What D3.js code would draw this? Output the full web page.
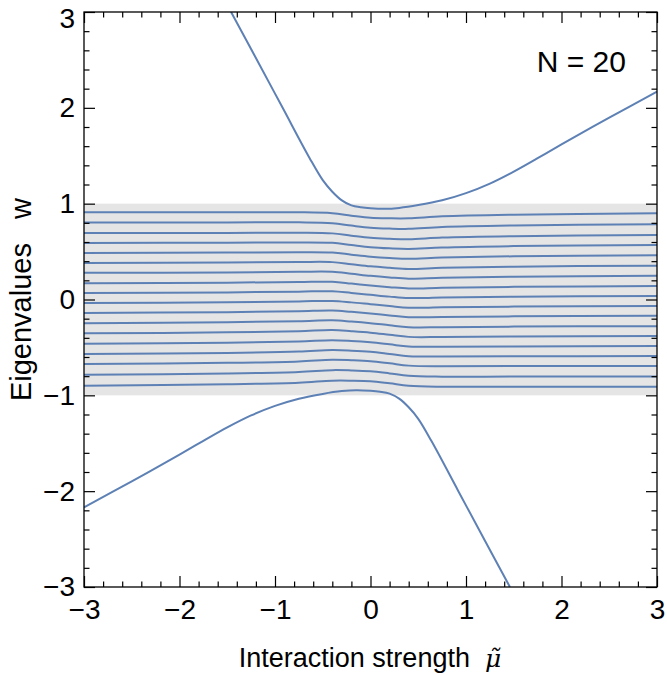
<!DOCTYPE html>
<html>
<head>
<meta charset="utf-8">
<script src="https://cdn.jsdelivr.net/npm/d3@7"></script>
<style>
  html, body { margin: 0; padding: 0; background: #fff; }
  svg { display: block; }
  text { font-family: "Liberation Sans", Arial, sans-serif; fill: #000; }
</style>
</head>
<body>
<svg id="chart" width="667" height="675"></svg>
<script>
// ---------------- data ----------------
const xTicks = [-3, -2, -1, 0, 1, 2, 3];
const yTicks = [-3, -2, -1, 0, 1, 2, 3];
const bandRange = [-1, 1];

// sample points (interaction strength) for the 18 inner eigenvalue lines
const innerMu = [-3, -1.5, -0.75, -0.4, -0.2, 0, 0.2, 0.4, 0.75, 1.5, 3];
const inner01 = [0.910, 0.910, 0.910, 0.900, 0.875, 0.853, 0.847, 0.847, 0.868, 0.885, 0.900];
const inner02 = [0.803, 0.804, 0.805, 0.796, 0.771, 0.749, 0.740, 0.737, 0.756, 0.772, 0.786];
const inner03 = [0.693, 0.695, 0.697, 0.690, 0.666, 0.644, 0.634, 0.629, 0.646, 0.661, 0.674];
const inner04 = [0.590, 0.593, 0.596, 0.591, 0.568, 0.546, 0.534, 0.528, 0.543, 0.557, 0.569];
const inner05 = [0.486, 0.490, 0.494, 0.490, 0.468, 0.447, 0.433, 0.425, 0.438, 0.451, 0.462];
const inner06 = [0.382, 0.386, 0.391, 0.390, 0.368, 0.346, 0.331, 0.319, 0.331, 0.343, 0.353];
const inner07 = [0.278, 0.283, 0.289, 0.289, 0.269, 0.247, 0.230, 0.217, 0.226, 0.237, 0.247];
const inner08 = [0.170, 0.176, 0.183, 0.185, 0.166, 0.146, 0.129, 0.115, 0.122, 0.132, 0.141];
const inner09 = [0.067, 0.074, 0.082, 0.086, 0.068, 0.049, 0.030, 0.015, 0.020, 0.029, 0.037];
const inner10 = [-0.037, -0.029, -0.020, -0.015, -0.030, -0.049, -0.068, -0.086, -0.082, -0.074, -0.067];
const inner11 = [-0.141, -0.132, -0.122, -0.115, -0.129, -0.146, -0.166, -0.185, -0.183, -0.176, -0.170];
const inner12 = [-0.247, -0.237, -0.226, -0.217, -0.230, -0.247, -0.269, -0.289, -0.289, -0.283, -0.278];
const inner13 = [-0.353, -0.343, -0.331, -0.319, -0.331, -0.346, -0.368, -0.390, -0.391, -0.386, -0.382];
const inner14 = [-0.462, -0.451, -0.438, -0.425, -0.433, -0.447, -0.468, -0.490, -0.494, -0.490, -0.486];
const inner15 = [-0.569, -0.557, -0.543, -0.528, -0.534, -0.546, -0.568, -0.591, -0.596, -0.593, -0.590];
const inner16 = [-0.674, -0.661, -0.646, -0.629, -0.634, -0.644, -0.666, -0.690, -0.697, -0.695, -0.693];
const inner17 = [-0.786, -0.772, -0.756, -0.737, -0.740, -0.749, -0.771, -0.796, -0.805, -0.804, -0.803];
const inner18 = [-0.900, -0.885, -0.868, -0.847, -0.847, -0.853, -0.875, -0.900, -0.910, -0.910, -0.910];

// outer (bound-state) eigenvalues
const upperMu = [-1.46, -1.2, -0.92, -0.64, -0.5, -0.4, -0.3, -0.2, -0.1, 0, 0.15, 0.3, 0.5, 0.75, 1.0, 1.25, 1.5, 1.75, 2.0, 2.5, 3.0];
const upperW  = [3.0, 2.52, 2.0, 1.48, 1.245, 1.125, 1.035, 0.982, 0.962, 0.952, 0.946, 0.956, 0.985, 1.035, 1.11, 1.21, 1.335, 1.475, 1.618, 1.898, 2.168];
const lowerMu = [-3.0, -2.5, -2.0, -1.75, -1.5, -1.25, -1.0, -0.75, -0.5, -0.3, -0.15, 0, 0.1, 0.2, 0.3, 0.4, 0.5, 0.64, 0.92, 1.2, 1.46];
const lowerW  = [-2.168, -1.898, -1.618, -1.475, -1.335, -1.21, -1.11, -1.035, -0.985, -0.956, -0.946, -0.952, -0.962, -0.982, -1.035, -1.125, -1.245, -1.48, -2.0, -2.52, -3.0];

const labelN = "N = 20";
const xTitle = "Interaction strength";
const yTitle = "Eigenvalues\u00A0\u00A0\u00A0w";

// ---------------- drawing ----------------
const innerLines = [inner01, inner02, inner03, inner04, inner05, inner06, inner07, inner08, inner09,
                    inner10, inner11, inner12, inner13, inner14, inner15, inner16, inner17, inner18];

const svg = d3.select("#chart");
const L = 84, R = 657, T = 12, B = 587;
const x = d3.scaleLinear().domain([-3, 3]).range([L, R]);
const y = d3.scaleLinear().domain([-3, 3]).range([B, T]);
const color = "#5e81b5";

svg.append("defs").append("clipPath").attr("id", "clip")
  .append("rect").attr("x", L).attr("y", T).attr("width", R - L).attr("height", B - T);

// shaded continuum band
svg.append("rect")
  .attr("x", L).attr("width", R - L)
  .attr("y", y(bandRange[1])).attr("height", y(bandRange[0]) - y(bandRange[1]))
  .attr("fill", "#e5e5e5");

const plot = svg.append("g").attr("clip-path", "url(#clip)");
const line = d3.line().x(d => x(d[0])).y(d => y(d[1])).curve(d3.curveCatmullRom.alpha(0.5));

innerLines.forEach(vals => {
  plot.append("path")
    .attr("d", line(innerMu.map((m, i) => [m, vals[i]])))
    .attr("fill", "none").attr("stroke", color).attr("stroke-width", 2);
});
[[upperMu, upperW], [lowerMu, lowerW]].forEach(([ms, ws]) => {
  plot.append("path")
    .attr("d", line(ms.map((m, i) => [m, ws[i]])))
    .attr("fill", "none").attr("stroke", color).attr("stroke-width", 2);
});

// axes: major + minor ticks on all four sides, pointing inward
const minor = d3.range(-3, 3.001, 0.2).map(v => +v.toFixed(2)).filter(v => Math.abs(v - Math.round(v)) > 1e-6);
const fmt = d => d3.format("")(d);
const MAJ = 11, MIN = 5.5;

function addAxis(axisFn, pos, scale, ticks, withLabels, pad) {
  const g1 = svg.append("g").attr("transform", pos)
    .call(axisFn(scale).tickValues(ticks).tickSize(-MAJ).tickSizeOuter(0)
      .tickPadding(withLabels ? pad : 0).tickFormat(withLabels ? fmt : ""));
  const g2 = svg.append("g").attr("transform", pos)
    .call(axisFn(scale).tickValues(minor).tickSize(-MIN).tickSizeOuter(0).tickFormat(""));
  [g1, g2].forEach(g => {
    g.select(".domain").remove();
    g.selectAll(".tick line").attr("stroke", "#000").attr("stroke-width", 1.2);
  });
  return g1;
}
const gb = addAxis(d3.axisBottom, `translate(0,${B})`, x, xTicks, true, 12);
addAxis(d3.axisTop, `translate(0,${T})`, x, xTicks, false, 0);
const gl = addAxis(d3.axisLeft, `translate(${L},0)`, y, yTicks, true, 9);
addAxis(d3.axisRight, `translate(${R},0)`, y, yTicks, false, 0);

[gb, gl].forEach(g => g.selectAll(".tick text")
  .attr("font-size", 28).attr("font-family", "Liberation Sans, Arial, sans-serif").attr("fill", "#000"));
// keep the top "3" label fully inside the picture
gl.selectAll(".tick text").filter(d => d === 3).attr("dy", "0.55em");

// frame
svg.append("rect").attr("x", L).attr("y", T).attr("width", R - L).attr("height", B - T)
  .attr("fill", "none").attr("stroke", "#000").attr("stroke-width", 1.3);

// titles
const xt = svg.append("text").attr("x", 370).attr("y", 667).attr("text-anchor", "middle").attr("font-size", 27);
xt.append("tspan").text(xTitle + "\u00A0\u00A0");
xt.append("tspan").attr("font-style", "italic").attr("font-family", "DejaVu Serif, serif").attr("font-size", 25).text("\u03BC\u0303");

svg.append("text").attr("transform", `translate(31,${y(0)}) rotate(-90)`)
  .attr("text-anchor", "middle").attr("font-size", 29).text(yTitle);

svg.append("text").attr("x", 626).attr("y", 72).attr("text-anchor", "end").attr("font-size", 30).text(labelN);
</script>
</body>
</html>
